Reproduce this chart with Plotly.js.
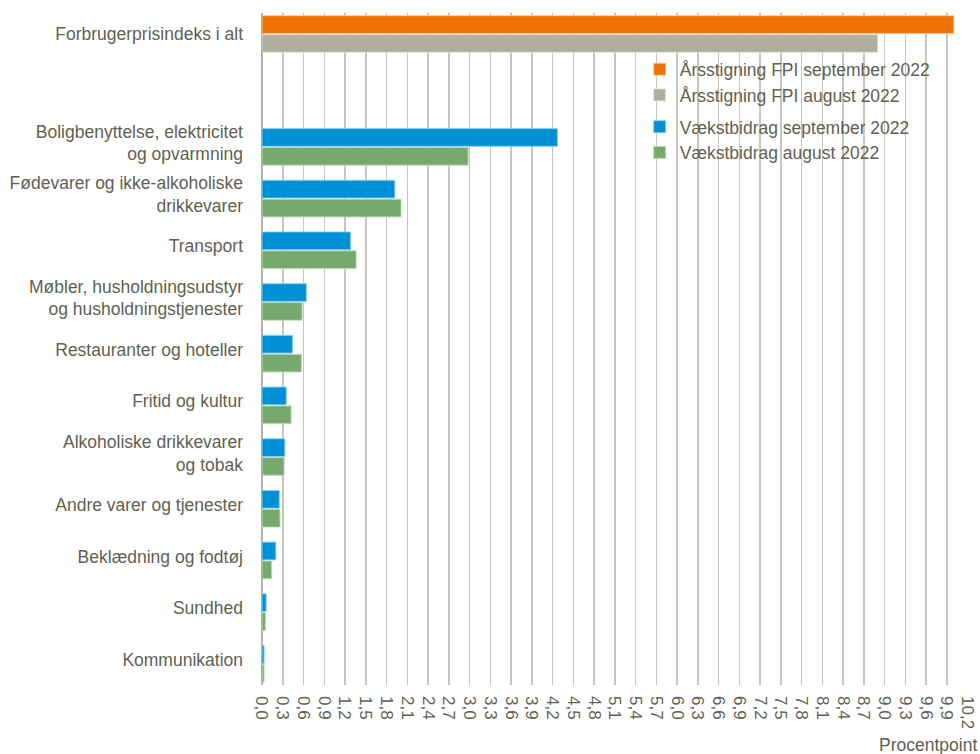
<!DOCTYPE html>
<html>
<head>
<meta charset="utf-8">
<script src="https://cdn.plot.ly/plotly-3.0.1.min.js"></script>
<style>html,body{margin:0;padding:0;background:#fff;}#chart{width:980px;height:754px;}</style>
</head>
<body>
<div id="chart"></div>
<script>
// Data
var totalCategory = ["Forbrugerprisindeks i alt"];
var fpiSeptember = [10.0];
var fpiAugust = [8.9];

var categories = [
  "Boligbenyttelse, elektricitet<br>og opvarmning",
  "Fødevarer og ikke-alkoholiske<br>drikkevarer",
  "Transport",
  "Møbler, husholdningsudstyr<br>og husholdningstjenester",
  "Restauranter og hoteller",
  "Fritid og kultur",
  "Alkoholiske drikkevarer<br>og tobak",
  "Andre varer og tjenester",
  "Beklædning og fodtøj",
  "Sundhed",
  "Kommunikation"
];
var contribSeptember = [4.27, 1.92, 1.28, 0.64, 0.44, 0.35, 0.33, 0.25, 0.20, 0.06, 0.03];
var contribAugust    = [2.98, 2.01, 1.36, 0.58, 0.57, 0.42, 0.32, 0.26, 0.14, 0.05, 0.03];

var seriesNames = [
  "Årsstigning FPI september 2022",
  "Årsstigning FPI august 2022",
  "Vækstbidrag september 2022",
  "Vækstbidrag august 2022"
];

var FONT = "Liberation Sans, Arial, sans-serif";
var TXT = "#5f5f52";
var FS = 17.5;

var traces = [
  {type:"bar", orientation:"h", y: totalCategory, x: fpiSeptember, yaxis:"y2", name: seriesNames[0],
   legendgroup:"a", marker:{color:"#ee7203", line:{color:"rgba(255,200,150,0.8)", width:1}}, hoverinfo:"x+name"},
  {type:"bar", orientation:"h", y: totalCategory, x: fpiAugust, yaxis:"y2", name: seriesNames[1],
   legendgroup:"a", marker:{color:"#b0ae9f", line:{color:"rgba(230,228,220,0.8)", width:1}}, hoverinfo:"x+name"},
  {type:"bar", orientation:"h", y: categories, x: contribSeptember, name: seriesNames[2],
   legendgroup:"b", marker:{color:"#0090d6", line:{color:"rgba(140,205,240,0.9)", width:1}}, hoverinfo:"x+name"},
  {type:"bar", orientation:"h", y: categories, x: contribAugust, name: seriesNames[3],
   legendgroup:"b", marker:{color:"#77a96f", line:{color:"rgba(190,220,185,0.9)", width:1}}, hoverinfo:"x+name"}
];

var layout = {
  width: 980, height: 754,
  margin: {l: 262, r: 12, t: 13, b: 69},
  paper_bgcolor: "#fff", plot_bgcolor: "#fff",
  font: {family: FONT, color: TXT, size: FS},
  separators: ",.",
  barmode: "group",
  bargap: 0.27,
  bargroupgap: 0.06,
  showlegend: true,
  legend: {x: 0.535, y: 0.943, xanchor: "left", yanchor: "top", bgcolor: "rgba(0,0,0,0)",
           font: {family: FONT, size: FS, color: TXT}, tracegroupgap: 6, traceorder: "grouped"},
  xaxis: {
    range: [0, 10.205], dtick: 0.3, tick0: 0, tickformat: ".1f",
    tickangle: 90, ticks: "", ticklabelstandoff: 10, automargin: false,
    showgrid: true, gridcolor: "#c8c6b9", gridwidth: 1.5,
    zeroline: true, zerolinecolor: "#b3b1a4", zerolinewidth: 1.5,
    showline: false,
    tickfont: {family: FONT, size: 17, color: TXT},
    fixedrange: true
  },
  yaxis: {
    type: "category", range: [10.41, -2.59], automargin: false,
    showgrid: false, zeroline: false, showline: false, ticks: "",
    ticklabelstandoff: 18, ticklabelshift: 4,
    tickfont: {family: FONT, size: FS, color: TXT}
  },
  yaxis2: {
    type: "category", overlaying: "y", side: "left", range: [12.594, -0.406], automargin: false,
    showgrid: false, zeroline: false, showline: false, ticks: "",
    ticklabelstandoff: 18, ticklabelshift: 0,
    tickfont: {family: FONT, size: FS, color: TXT}
  },
  annotations: [
    {text: "Procentpoint", xref: "paper", yref: "paper", x: 1.0156, y: -0.0893,
     xanchor: "right", yanchor: "middle", showarrow: false,
     font: {family: FONT, size: FS, color: TXT}}
  ]
};

Plotly.newPlot("chart", traces, layout, {displayModeBar: false, staticPlot: true});
</script>
</body>
</html>
